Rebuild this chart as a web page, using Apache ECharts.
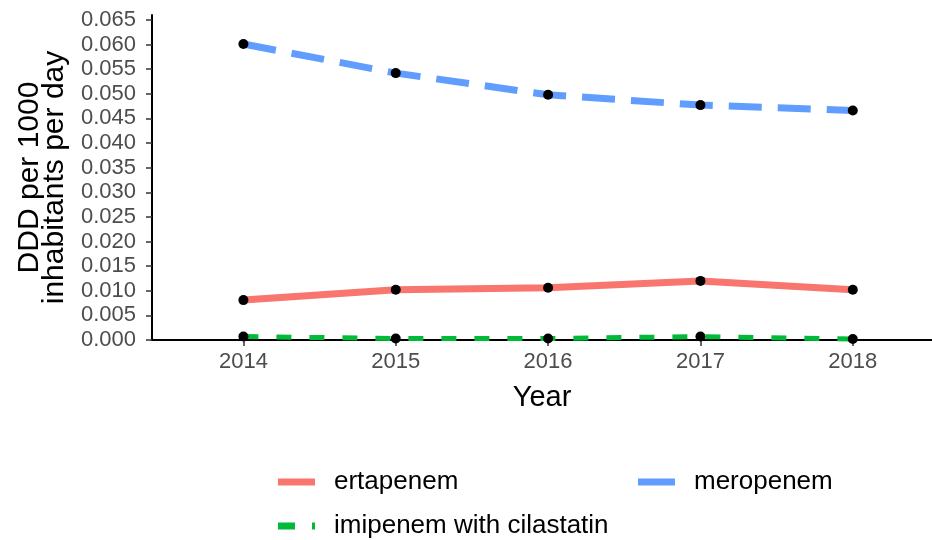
<!DOCTYPE html>
<html>
<head>
<meta charset="utf-8">
<script src="https://cdn.jsdelivr.net/npm/echarts@6/dist/echarts.min.js"></script>
<style>
  html, body { margin: 0; padding: 0; background: #fff; }
  #chart { width: 932px; height: 540px; }
</style>
</head>
<body>
<div id="chart"></div>
<script>
// Carbapenem consumption, DDD per 1000 inhabitants per day
const years = [2014, 2015, 2016, 2017, 2018];
const ertapenem = [0.0081, 0.0102, 0.0106, 0.0120, 0.0102];
const imipenem = [0.0007, 0.0003, 0.0003, 0.0007, 0.0002];
const meropenem = [0.0601, 0.0542, 0.0498, 0.0477, 0.0466];
const yTicks = [0, 0.005, 0.01, 0.015, 0.02, 0.025, 0.03, 0.035, 0.04, 0.045, 0.05, 0.055, 0.06, 0.065];

const colors = ['#F8766D', '#00BA38', '#619CFF'];
const FONT = 'Liberation Sans, Arial, sans-serif';

// legend keys: solid bar, and a dash followed by the start of the next dash
const KEY_SOLID = 'path://M0 0H37V7H0Z';
const KEY_DASH = 'path://M0 0H17V7H0Z M34 0H37V7H34Z';

const pairs = arr => years.map((y, i) => [y, arr[i]]);

const lineSeries = (name, arr, color, width, dash) => ({
  name, type: 'line', data: pairs(arr), symbol: 'none', z: 2,
  lineStyle: { color, width, type: dash, cap: 'butt' },
  itemStyle: { color },
  silent: true, animation: false
});
const pointSeries = arr => ({
  type: 'scatter', data: pairs(arr), symbol: 'circle', symbolSize: 10, z: 5,
  itemStyle: { color: '#000', opacity: 1 }, silent: true, animation: false
});

const legendBase = (name, icon, left, top) => ({
  data: [{ name, icon }], left, top, orient: 'horizontal',
  itemWidth: 37, itemHeight: 7, itemGap: 20,
  textStyle: { fontFamily: FONT, fontSize: 26, color: '#000', padding: [0, 0, 0, 14] },
  selectedMode: false
});

const chart = echarts.init(document.getElementById('chart'), null, { renderer: 'canvas' });
chart.setOption({
  backgroundColor: '#fff',
  animation: false,
  grid: { left: 152, right: 0, top: 15, bottom: 200, containLabel: false },
  xAxis: {
    type: 'value', min: 2013.4, max: 2018.52,
    name: 'Year', nameLocation: 'middle', nameGap: 43,
    nameTextStyle: { fontFamily: FONT, fontSize: 29, color: '#000' },
    axisLine: { show: true, lineStyle: { color: '#000', width: 2 } },
    axisTick: { show: true, length: 6, lineStyle: { color: '#333', width: 1.5 }, customValues: years },
    axisLabel: { customValues: years, fontFamily: FONT, fontSize: 22, color: '#4D4D4D', margin: 11, formatter: v => String(v) },
    splitLine: { show: false }
  },
  yAxis: {
    type: 'value', min: 0, max: 0.066,
    name: 'DDD per 1000\ninhabitants per day', nameLocation: 'middle', nameGap: 84, nameRotate: 90,
    nameTextStyle: { fontFamily: FONT, fontSize: 30, color: '#000', lineHeight: 25 },
    axisLine: { show: true, lineStyle: { color: '#000', width: 2 } },
    axisTick: { show: true, length: 6, lineStyle: { color: '#333', width: 1.5 }, customValues: yTicks },
    axisLabel: { customValues: yTicks, fontFamily: FONT, fontSize: 22, color: '#4D4D4D', margin: 16, formatter: v => v.toFixed(3) },
    splitLine: { show: false }
  },
  legend: [
    legendBase('ertapenem', KEY_SOLID, 273, 464),
    legendBase('meropenem', KEY_SOLID, 633, 464),
    legendBase('imipenem with cilastatin', KEY_DASH, 273, 508)
  ],
  series: [
    lineSeries('ertapenem', ertapenem, colors[0], 7, 'solid'),
    lineSeries('imipenem with cilastatin', imipenem, colors[1], 5, [15, 18]),
    lineSeries('meropenem', meropenem, colors[2], 7, [33, 16]),
    pointSeries(ertapenem),
    pointSeries(imipenem),
    pointSeries(meropenem)
  ]
});
</script>
</body>
</html>
